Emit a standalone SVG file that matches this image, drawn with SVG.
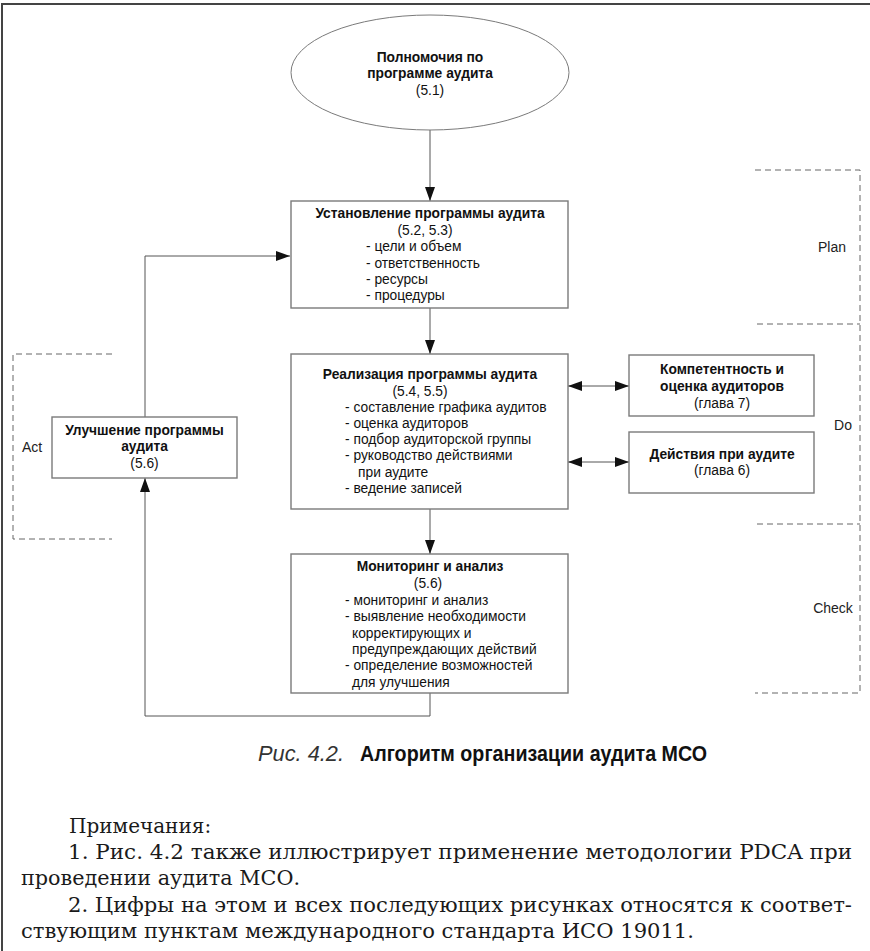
<svg xmlns="http://www.w3.org/2000/svg" width="870" height="951" viewBox="0 0 870 951">
<defs>
<marker id="ah" markerUnits="userSpaceOnUse" markerWidth="14" markerHeight="10" refX="14" refY="5" orient="auto-start-reverse">
<path d="M0,0 L14,5 L0,10 Z" fill="#111"/>
</marker>
</defs>
<style>
.box{fill:#fff;stroke:#7a7a7a;stroke-width:1.4}
.con{fill:none;stroke:#555;stroke-width:1}
.dash{fill:none;stroke:#666;stroke-width:1;stroke-dasharray:6 4}
.t{font-family:"Liberation Sans",Arial,sans-serif;font-size:13.8px;fill:#111}
.b{font-weight:bold}
.c{text-anchor:middle}
.lab{font-family:"Liberation Sans",Arial,sans-serif;font-size:14px;fill:#222}
.note{font-family:"DejaVu Serif","Liberation Serif",serif;font-size:20px;fill:#1a1a1a}
</style>
<rect width="870" height="951" fill="#fff"/>
<!-- frame -->
<path d="M2,951 L2,4 L870,4" fill="none" stroke="#444" stroke-width="2"/>

<!-- PDCA brackets -->
<g id="pdca">
<path class="dash" d="M755,170 H860 V693 H755"/>
<path class="dash" d="M757,324 H860"/>
<path class="dash" d="M757,524 H860"/>
<path class="dash" d="M112,354 H13 V539 H112"/>
<text class="lab" x="832" y="252" text-anchor="middle">Plan</text>
<text class="lab" x="843" y="430" text-anchor="middle">Do</text>
<text class="lab" x="833" y="613" text-anchor="middle">Check</text>
<text class="lab" x="32" y="452" text-anchor="middle">Act</text>
</g>

<!-- connectors -->
<g id="connectors">
<path class="con" d="M430,130 V201" marker-end="url(#ah)"/>
<path class="con" d="M430,308 V354" marker-end="url(#ah)"/>
<path class="con" d="M430,509 V554" marker-end="url(#ah)"/>
<path class="con" d="M568,386 H629" marker-start="url(#ah)" marker-end="url(#ah)"/>
<path class="con" d="M568,462 H629" marker-start="url(#ah)" marker-end="url(#ah)"/>
<path class="con" d="M430,693 V716 H145 V478" marker-end="url(#ah)"/>
<path class="con" d="M145,417 V256 H290" marker-end="url(#ah)"/>
</g>

<g id="n_authority">
<ellipse cx="430" cy="72.5" rx="139" ry="57.5" fill="#fff" stroke="#7a7a7a" stroke-width="1"/>
<text class="t b c" x="430" y="62">Полномочия по</text>
<text class="t b c" x="430" y="78">программе аудита</text>
<text class="t c" x="430" y="94.5">(5.1)</text>
</g>

<g id="n_establish">
<rect class="box" x="291" y="201" width="277" height="107"/>
<text class="t b c" x="430" y="217.5">Установление программы аудита</text>
<text class="t c" x="425" y="234.5">(5.2, 5.3)</text>
<text class="t" x="366" y="251">- цели и объем</text>
<text class="t" x="366" y="267.5">- ответственность</text>
<text class="t" x="366" y="283.5">- ресурсы</text>
<text class="t" x="366" y="299.5">- процедуры</text>
</g>

<g id="n_implement">
<rect class="box" x="291" y="354" width="277" height="155"/>
<text class="t b c" x="430" y="379">Реализация программы аудита</text>
<text class="t c" x="420" y="395.5">(5.4, 5.5)</text>
<text class="t" x="345" y="412">- составление графика аудитов</text>
<text class="t" x="345" y="428">- оценка аудиторов</text>
<text class="t" x="345" y="444">- подбор аудиторской группы</text>
<text class="t" x="345" y="460">- руководство действиями</text>
<text class="t" x="358" y="476.5">при аудите</text>
<text class="t" x="345" y="492.5">- ведение записей</text>
</g>

<g id="n_competence">
<rect class="box" x="629" y="355" width="185" height="61"/>
<text class="t b c" x="722" y="374">Компетентность и</text>
<text class="t b c" x="722" y="391">оценка аудиторов</text>
<text class="t c" x="722" y="407.5">(глава 7)</text>
</g>

<g id="n_activities">
<rect class="box" x="629" y="432" width="185" height="61"/>
<text class="t b c" x="722" y="459">Действия при аудите</text>
<text class="t c" x="722" y="475">(глава 6)</text>
</g>

<g id="n_monitor">
<rect class="box" x="291" y="554" width="277" height="139"/>
<text class="t b c" x="430" y="571">Мониторинг и анализ</text>
<text class="t c" x="428" y="587.5">(5.6)</text>
<text class="t" x="345" y="604.5">- мониторинг и анализ</text>
<text class="t" x="345" y="621">- выявление необходимости</text>
<text class="t" x="352" y="637.5">корректирующих и</text>
<text class="t" x="352" y="653.5">предупреждающих действий</text>
<text class="t" x="345" y="670">- определение возможностей</text>
<text class="t" x="352" y="686.5">для улучшения</text>
</g>

<g id="n_improve">
<rect class="box" x="52" y="417" width="185" height="61"/>
<text class="t b c" x="144.5" y="434.5">Улучшение программы</text>
<text class="t b c" x="144.5" y="451">аудита</text>
<text class="t c" x="144.5" y="467.5">(5.6)</text>
</g>

<g id="caption">
<text x="258" y="761" font-family="'Liberation Sans',Arial,sans-serif" font-size="22" font-style="italic" fill="#333" textLength="86" lengthAdjust="spacingAndGlyphs">Рис. 4.2.</text>
<text x="360" y="761" font-family="'Liberation Sans',Arial,sans-serif" font-size="22" font-weight="bold" fill="#111" textLength="347" lengthAdjust="spacingAndGlyphs">Алгоритм организации аудита МСО</text>
</g>

<g id="notes">
<text class="note" x="69" y="833">Примечания:</text>
<text class="note" x="68" y="859" textLength="784" lengthAdjust="spacingAndGlyphs">1. Рис. 4.2 также иллюстрирует применение методологии PDCA при</text>
<text class="note" x="21" y="885" textLength="279" lengthAdjust="spacingAndGlyphs">проведении аудита МСО.</text>
<text class="note" x="68" y="912" textLength="784" lengthAdjust="spacingAndGlyphs">2. Цифры на этом и всех последующих рисунках относятся к соответ-</text>
<text class="note" x="21" y="938" textLength="673" lengthAdjust="spacingAndGlyphs">ствующим пунктам международного стандарта ИСО 19011.</text>
</g>
</svg>
